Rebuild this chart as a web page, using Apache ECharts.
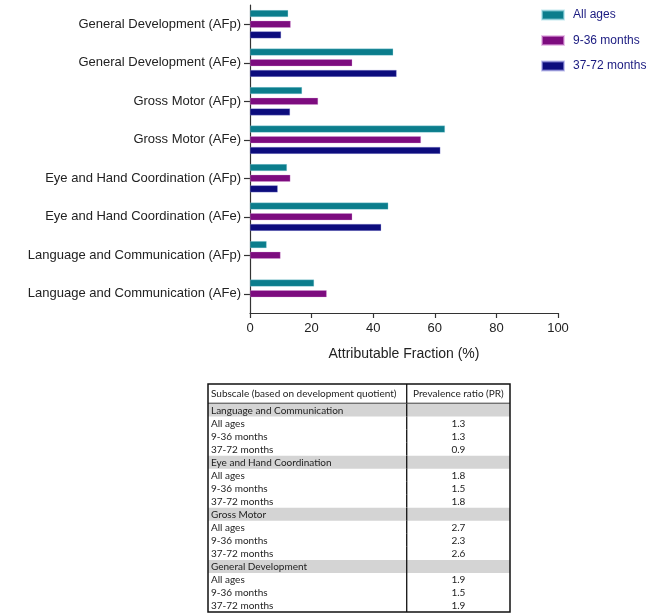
<!DOCTYPE html>
<html>
<head>
<meta charset="utf-8">
<script src="https://cdn.jsdelivr.net/npm/echarts@6/dist/echarts.min.js"></script>
<style>
html,body{margin:0;padding:0;background:#fff;}
#chart{width:647px;height:613px;}
</style>
</head>
<body>
<div id="chart"></div>
<script>
// ---- Chart data ----
const categories = [
  'General Development (AFp)',
  'General Development (AFe)',
  'Gross Motor (AFp)',
  'Gross Motor (AFe)',
  'Eye and Hand Coordination (AFp)',
  'Eye and Hand Coordination (AFe)',
  'Language and Communication (AFp)',
  'Language and Communication (AFe)'
];
const seriesNames = ['All ages', '9-36 months', '37-72 months'];
const allAges   = [12.4, 46.5, 16.9, 63.3, 12.0, 44.9, 5.4, 20.8];
const months9_36  = [13.2, 33.2, 22.1, 55.5, 13.1, 33.2, 9.9, 24.9];
const months37_72 = [10.1, 47.6, 13.0, 61.8, 9.0, 42.6, null, null];
const xTicks = [0, 20, 40, 60, 80, 100];
const xAxisName = 'Attributable Fraction (%)';

// ---- Table data ----
const tableHeader = ['Subscale (based on development quotient)', 'Prevalence ratio (PR)'];
const tableLabels = [
  'Language and Communication', 'All ages', '9-36 months', '37-72 months',
  'Eye and Hand Coordination', 'All ages', '9-36 months', '37-72 months',
  'Gross Motor', 'All ages', '9-36 months', '37-72 months',
  'General Development', 'All ages', '9-36 months', '37-72 months'
];
const tablePR = [
  '', '1.3', '1.3', '0.9',
  '', '1.8', '1.5', '1.8',
  '', '2.7', '2.3', '2.6',
  '', '1.9', '1.5', '1.9'
];

const colors = ['#0b7d8c', '#7d0c7f', '#0c0c7d'];
const HEADER_H = 1.5;
const COL_SPLIT = 0.658;
const TABLE_TOTAL = HEADER_H + tableLabels.length;

const tableData = [[0, HEADER_H, -1]];
tableLabels.forEach((l, i) => tableData.push([HEADER_H + i, HEADER_H + i + 1, i]));

const tableFont = '10px Lato';
const textColor = '#222';

function renderRow(params, api) {
  const s = api.value(0), e = api.value(1), idx = api.value(2);
  const tl = api.coord([0, s]);
  const br = api.coord([1, e]);
  const dv = api.coord([COL_SPLIT, s]);
  const cy = (tl[1] + br[1]) / 2;
  const children = [];
  let left, right;
  if (idx < 0) { left = tableHeader[0]; right = tableHeader[1]; }
  else { left = tableLabels[idx]; right = tablePR[idx]; }
  const section = idx >= 0 && tablePR[idx] === '';
  if (section) {
    children.push({type: 'rect', shape: {x: tl[0], y: tl[1], width: br[0] - tl[0], height: br[1] - tl[1]},
      style: {fill: '#d4d4d4'}});
  }
  children.push({type: 'text', style: {text: left, x: tl[0] + 3, y: cy + 0.5, fill: textColor, font: tableFont,
    align: 'left', verticalAlign: 'middle'}});
  children.push({type: 'text', style: {text: right, x: (dv[0] + br[0]) / 2, y: cy + 0.5, fill: textColor, font: tableFont,
    align: 'center', verticalAlign: 'middle'}});
  children.push({type: 'line', shape: {x1: dv[0], y1: tl[1], x2: dv[0], y2: br[1]}, style: {stroke: '#111', lineWidth: 1.3}});
  if (idx < 0) {
    children.push({type: 'line', shape: {x1: tl[0], y1: br[1], x2: br[0], y2: br[1]}, style: {stroke: '#111', lineWidth: 1.5}});
  }
  return {type: 'group', children};
}

function renderBorder(params, api) {
  const tl = api.coord([0, 0]);
  const br = api.coord([1, TABLE_TOTAL]);
  return {type: 'rect', shape: {x: tl[0], y: tl[1], width: br[0] - tl[0], height: br[1] - tl[1]},
    style: {fill: 'none', stroke: '#111', lineWidth: 1.5}};
}

const chart = echarts.init(document.getElementById('chart'), null, {renderer: 'canvas'});
const labelFont = 'Liberation Sans, Arial, sans-serif';
chart.setOption({
  animation: false,
  backgroundColor: '#fff',
  color: colors,
  legend: {
    orient: 'vertical',
    left: 541, top: 9, padding: 0,
    itemWidth: 22, itemHeight: 9, itemGap: 13.5,
    icon: 'rect',
    data: seriesNames,
    textStyle: {color: '#1a1a80', fontSize: 12, fontFamily: labelFont, padding: [0, 0, 0, 4]}
  },
  grid: [
    {left: 250, top: 5, width: 308, height: 308, containLabel: false},
    {left: 208, top: 384, width: 302, height: 228, containLabel: false}
  ],
  xAxis: [
    {
      type: 'value', gridIndex: 0, min: xTicks[0], max: xTicks[xTicks.length - 1], interval: xTicks[1] - xTicks[0],
      name: xAxisName, nameLocation: 'middle', nameGap: 34,
      nameTextStyle: {fontSize: 14, color: '#222', fontFamily: labelFont},
      axisLine: {show: true, lineStyle: {color: '#333', width: 1.2}},
      axisTick: {show: true, length: 5, lineStyle: {color: '#333', width: 1.2}},
      axisLabel: {fontSize: 13, color: '#222', fontFamily: labelFont, margin: 9},
      splitLine: {show: false}
    },
    {type: 'value', gridIndex: 1, min: 0, max: 1, show: false}
  ],
  yAxis: [
    {
      type: 'category', gridIndex: 0, data: categories, inverse: true,
      axisLine: {show: true, lineStyle: {color: '#333', width: 1.2}},
      axisTick: {show: true, alignWithLabel: true, length: 6, lineStyle: {color: '#333', width: 1.2}},
      axisLabel: {fontSize: 13, color: '#222', fontFamily: labelFont, margin: 9}
    },
    {type: 'value', gridIndex: 1, min: 0, max: TABLE_TOTAL, inverse: true, show: false}
  ],
  series: [
    {name: seriesNames[0], type: 'bar', data: allAges, barWidth: 7, barGap: '52%',
      itemStyle: {borderColor: 'rgba(160,220,230,0.6)', borderWidth: 0.5}},
    {name: seriesNames[1], type: 'bar', data: months9_36, barWidth: 7, barGap: '52%',
      itemStyle: {borderColor: 'rgba(220,160,220,0.6)', borderWidth: 0.5}},
    {name: seriesNames[2], type: 'bar', data: months37_72, barWidth: 7, barGap: '52%',
      itemStyle: {borderColor: 'rgba(160,160,230,0.6)', borderWidth: 0.5}},
    {type: 'custom', xAxisIndex: 1, yAxisIndex: 1, data: tableData, renderItem: renderRow, z: 2, silent: true,
      encode: {x: -1, y: [0, 1]}},
    {type: 'custom', xAxisIndex: 1, yAxisIndex: 1, data: [[0, TABLE_TOTAL]], renderItem: renderBorder, z: 3, silent: true,
      encode: {x: -1, y: [0, 1]}}
  ]
});
</script>
</body>
</html>
